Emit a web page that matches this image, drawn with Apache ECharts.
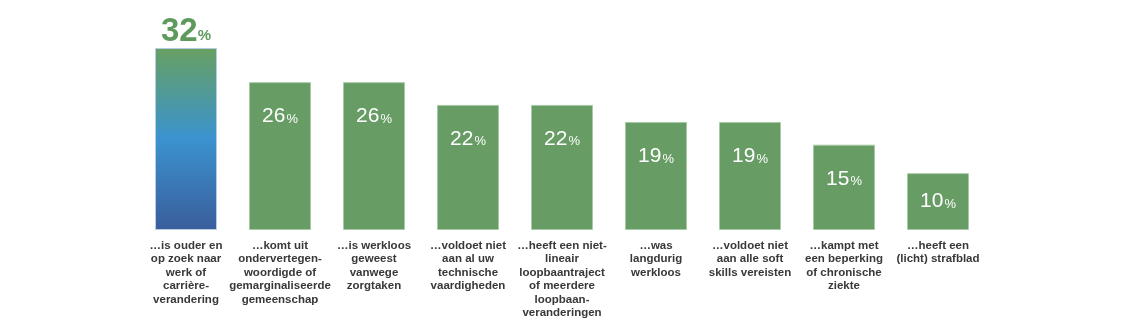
<!DOCTYPE html>
<html>
<head>
<meta charset="utf-8">
<script src="https://cdn.jsdelivr.net/npm/echarts@6/dist/echarts.min.js"></script>
<style>
  html, body { margin: 0; padding: 0; background: #ffffff; }
  #chart { width: 1128px; height: 336px; }
</style>
</head>
<body>
<div id="chart"></div>
<script>
// Categories (line breaks as typeset under each bar)
const categories = [
  '…is ouder en\nop zoek naar\nwerk of\ncarrière-\nverandering',
  '…komt uit\nondervertegen-\nwoordigde of\ngemarginaliseerde\ngemeenschap',
  '…is werkloos\ngeweest\nvanwege\nzorgtaken',
  '…voldoet niet\naan al uw\ntechnische\nvaardigheden',
  '…heeft een niet-\nlineair\nloopbaantraject\nof meerdere\nloopbaan-\nveranderingen',
  '…was\nlangdurig\nwerkloos',
  '…voldoet niet\naan alle soft\nskills vereisten',
  '…kampt met\neen beperking\nof chronische\nziekte',
  '…heeft een\n(licht) strafblad'
];

// Share of respondents, in percent
const values = [32, 26, 26, 22, 22, 19, 19, 15, 10];

const green = '#679d65';
const font = 'Liberation Sans, Arial, sans-serif';

const highlight = new echarts.graphic.LinearGradient(0, 0, 0, 1, [
  { offset: 0, color: '#68a062' },
  { offset: 0.5, color: '#3a93cf' },
  { offset: 1, color: '#3a5d9b' }
]);

const seriesData = values.map((v, i) => {
  if (i === 0) {
    // leading bar: gradient fill, large green label above
    return {
      value: v,
      itemStyle: { color: highlight, borderColor: '#b9cde0', borderWidth: 1 },
      label: {
        position: 'top',
        distance: 0,
        formatter: '{big|{c}}{pct|%}',
        rich: {
          big: { fontSize: 33, fontWeight: 'bold', color: '#5e9a5c', fontFamily: font },
          pct: { fontSize: 15, fontWeight: 'bold', color: '#5e9a5c', fontFamily: font, padding: [9, 0, 0, 0] }
        }
      }
    };
  }
  if (i === values.length - 1) {
    // short bar: label centred vertically
    return { value: v, label: { position: 'inside' } };
  }
  return { value: v };
});

const chart = echarts.init(document.getElementById('chart'), null, { renderer: 'canvas' });

chart.setOption({
  animation: false,
  backgroundColor: '#ffffff',
  grid: { left: 139, width: 846, top: 48, height: 182, containLabel: false },
  xAxis: {
    type: 'category',
    data: categories,
    axisLine: { show: false },
    axisTick: { show: false },
    axisLabel: {
      interval: 0,
      margin: 9,
      color: '#383838',
      fontSize: 11.5,
      fontWeight: 'bold',
      lineHeight: 13.5,
      fontFamily: font,
      align: 'center',
      verticalAlign: 'top'
    }
  },
  yAxis: {
    type: 'value',
    min: 0,
    max: 32,
    show: false,
    splitLine: { show: false }
  },
  series: [{
    type: 'bar',
    data: seriesData,
    barWidth: 62,
    itemStyle: { color: green, borderColor: '#a9caa6', borderWidth: 1 },
    label: {
      show: true,
      position: 'insideTop',
      distance: 24,
      formatter: '{n|{c}}{p|%}',
      rich: {
        n: { fontSize: 21, color: '#ffffff', fontFamily: font },
        p: { fontSize: 13, color: '#ffffff', fontFamily: font, padding: [5, 0, 0, 1] }
      }
    }
  }]
});
</script>
</body>
</html>
